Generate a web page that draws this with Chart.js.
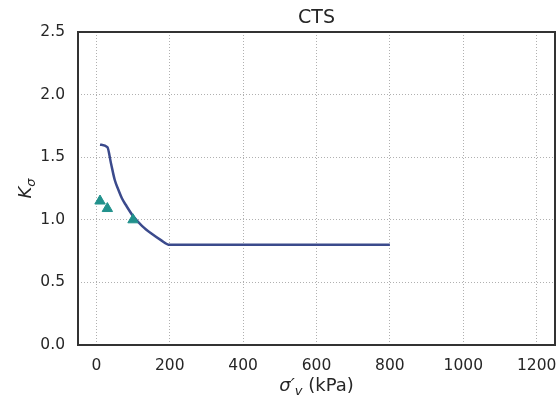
<!DOCTYPE html>
<html lang="en">
<head>
    <meta charset="UTF-8">
    <title>CTS</title>
    <script src="https://cdn.jsdelivr.net/npm/chart.js"></script>
    <style>
        html, body { margin: 0; padding: 0; background: #fff; }
        #wrap { width: 557px; height: 402px; }
    </style>
</head>
<body>
<div id="wrap">
    <canvas id="myChart" width="557" height="402"></canvas>
</div>
<script>

    // Courbe K_sigma en fonction de la contrainte verticale effective
    const courbeSigma = [10, 30, 40, 50, 60, 70, 80, 100, 125, 150, 175, 200, 800]
    const courbeK = [1.60, 1.58, 1.45, 1.32, 1.24, 1.17, 1.12, 1.03, 0.95, 0.89, 0.84, 0.80, 0.80]

    // Essais CTS
    const essaisSigma = [10, 30, 100]
    const essaisK = [1.15, 1.09, 1.00]

    // Graduations
    const ticksX = [0, 200, 400, 600, 800, 1000, 1200]
    const ticksY = [0.0, 0.5, 1.0, 1.5, 2.0, 2.5]

    const police = "'DejaVu Sans', sans-serif"

    // Cadre, titre et libellés des axes (avec indices)
    const decor = {
        id: 'decor',
        afterDraw(chart) {
            const { ctx, chartArea: a } = chart
            ctx.save()
            ctx.strokeStyle = '#333'
            ctx.lineWidth = 2
            ctx.strokeRect(a.left, a.top, a.right - a.left, a.bottom - a.top)

            ctx.fillStyle = '#262626'
            ctx.textBaseline = 'alphabetic'
            ctx.textAlign = 'center'
            ctx.font = `19px ${police}`
            ctx.fillText('CTS', (a.left + a.right) / 2, a.top - 9)

            // sigma'_v (kPa)
            const partsX = [
                { t: 'σ′', f: `italic 18px ${police}`, dy: 0 },
                { t: 'v', f: `italic 13px ${police}`, dy: 4 },
                { t: ' (kPa)', f: `18px ${police}`, dy: 0 }
            ]
            ctx.textAlign = 'left'
            let w = 0
            partsX.forEach(p => { ctx.font = p.f; w += ctx.measureText(p.t).width })
            let x = (a.left + a.right) / 2 - w / 2
            const yBase = 391
            partsX.forEach(p => {
                ctx.font = p.f
                ctx.fillText(p.t, x, yBase + p.dy)
                x += ctx.measureText(p.t).width
            })

            // K_sigma
            ctx.translate(31, (a.top + a.bottom) / 2)
            ctx.rotate(-Math.PI / 2)
            const partsY = [
                { t: 'K', f: `italic 18px ${police}`, dy: 0 },
                { t: 'σ', f: `italic 13px ${police}`, dy: 4 }
            ]
            w = 0
            partsY.forEach(p => { ctx.font = p.f; w += ctx.measureText(p.t).width })
            x = -w / 2
            partsY.forEach(p => {
                ctx.font = p.f
                ctx.fillText(p.t, x, p.dy)
                x += ctx.measureText(p.t).width
            })
            ctx.restore()
        }
    }

    const grille = {
        color: '#b0b0b0',
        lineWidth: 1,
        drawTicks: false
    }

    new Chart(document.getElementById('myChart'), {
        type: 'scatter',
        data: {
            datasets: [
                {
                    label: 'Essais',
                    data: essaisSigma.map((s, i) => ({ x: s, y: essaisK[i] })),
                    pointStyle: 'triangle',
                    pointRadius: 6,
                    backgroundColor: '#21918c',
                    borderColor: '#21918c',
                    borderWidth: 1,
                    order: 1
                },
                {
                    label: 'K sigma',
                    type: 'line',
                    data: courbeSigma.map((s, i) => ({ x: s, y: courbeK[i] })),
                    borderColor: '#3b4a8c',
                    borderWidth: 2.5,
                    pointRadius: 0,
                    fill: false,
                    cubicInterpolationMode: 'monotone',
                    order: 2
                }
            ]
        },
        options: {
            responsive: false,
            animation: false,
            layout: { autoPadding: false, padding: { top: 32, right: 2, left: 0, bottom: 0 } },
            plugins: { legend: { display: false }, title: { display: false }, tooltip: { enabled: false } },
            scales: {
                x: {
                    type: 'linear',
                    min: -50,
                    max: 1250,
                    afterBuildTicks: s => { s.ticks = ticksX.map(v => ({ value: v })) },
                    afterFit: s => { s.height = 57; s.paddingLeft = 0; s.paddingRight = 0 },
                    grid: grille,
                    border: { display: false, dash: [1, 2] },
                    ticks: {
                        color: '#262626',
                        font: { family: police, size: 15.5 },
                        padding: 12,
                        maxRotation: 0,
                        callback: v => String(v)
                    }
                },
                y: {
                    min: 0,
                    max: 2.5,
                    afterBuildTicks: s => { s.ticks = ticksY.map(v => ({ value: v })) },
                    afterFit: s => { s.width = 78; s.paddingTop = 0; s.paddingBottom = 0 },
                    grid: grille,
                    border: { display: false, dash: [1, 2] },
                    ticks: {
                        color: '#262626',
                        font: { family: police, size: 15.5 },
                        padding: 13,
                        callback: v => v.toFixed(1)
                    }
                }
            }
        },
        plugins: [decor]
    })
</script>
</body>
</html>
